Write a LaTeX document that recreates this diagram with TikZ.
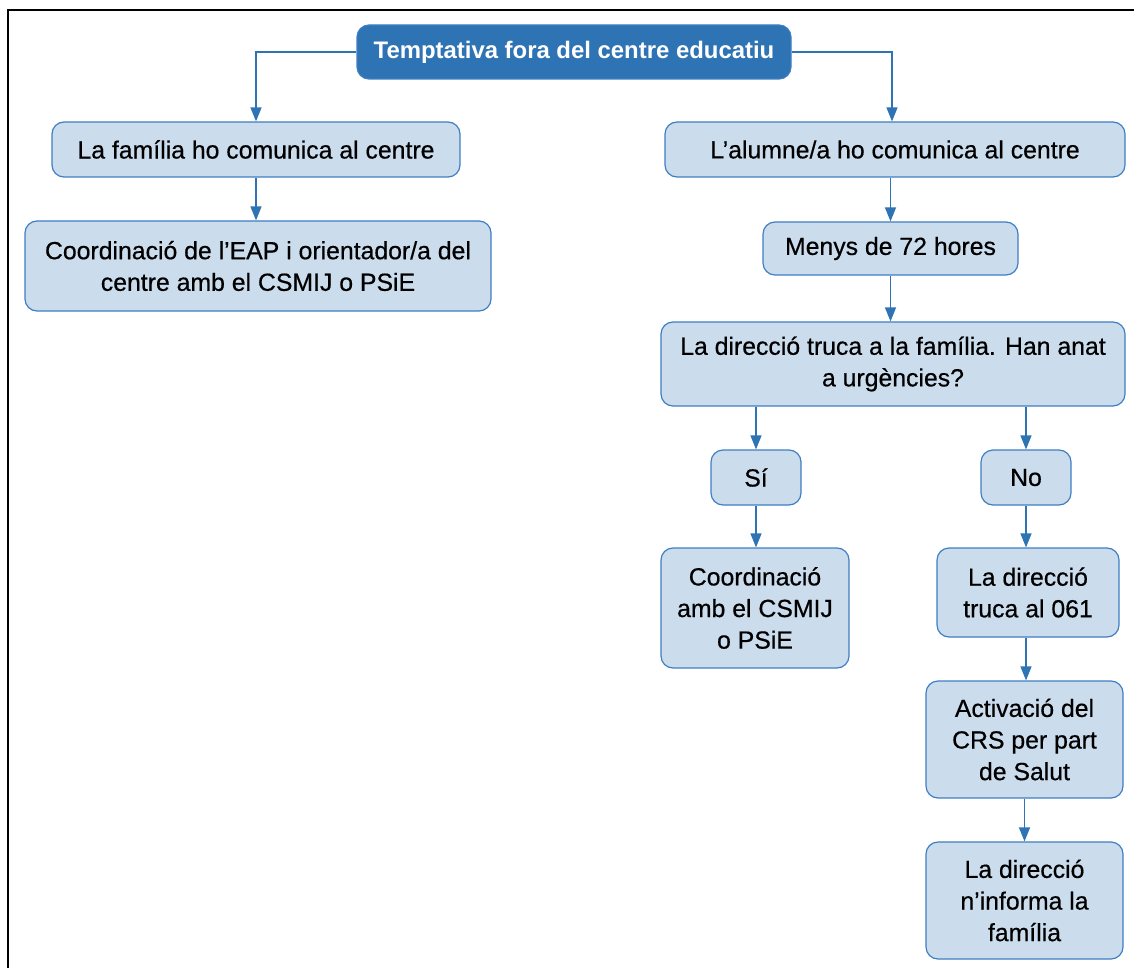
\documentclass[tikz,border=0pt]{standalone}
\usepackage{fontspec}
\setmainfont{Liberation Sans}
\newfontfamily\medfont{Liberation Sans}[FakeBold=0.5]
\usetikzlibrary{arrows.meta,calc}
\definecolor{darkb}{HTML}{2E73B4}
\definecolor{lightb}{HTML}{CBDCEC}
\definecolor{edgeb}{HTML}{3F7EC2}
\tikzset{
  box/.style={draw=edgeb, line width=1.2pt, fill=lightb, rounded corners=12pt, align=center,
    font=\medfont\fontsize{24.8}{31.6}\selectfont, inner sep=0pt, text=black},
  topbox/.style={draw=edgeb, line width=1.2pt, fill=darkb, rounded corners=12pt, align=center,
    font=\fontsize{23.9}{31}\selectfont\bfseries, inner sep=0pt, text=white},
  conn/.style={draw=darkb, line width=1.3pt, -{Triangle[length=14pt,width=11pt]}}
}
\begin{document}
\begin{tikzpicture}[x=1pt,y=-1pt]
\useasboundingbox (0,0) rectangle (1134,968);
\draw[line width=1.3pt, black] (8,968) -- (8,10) -- (1134,10);

\node[topbox, minimum width=434pt, minimum height=54pt] (top) at (574,52) {Temptativa fora del centre educatiu};
\node[box, minimum width=408pt, minimum height=55pt] (fam) at (256,149.5) {La família ho comunica al centre};
\node[box, minimum width=466pt, minimum height=90pt] (coord1) at (258,266) {Coordinació de l’EAP i orientador/a del\\centre amb el CSMIJ o PSiE};
\node[box, minimum width=460pt, minimum height=55pt] (alum) at (895,149.5) {L’alumne/a ho comunica al centre};
\node[box, minimum width=255pt, minimum height=53pt] (menys) at (890.5,248.5) {Menys de 72 hores};
\node[box, minimum width=464pt, minimum height=84pt] (dir) at (893,364) {La direcció truca a la família. Han anat\\a urgències?};
\node[box, minimum width=90pt, minimum height=55pt] (si) at (756,477.5) {Sí};
\node[box, minimum width=90pt, minimum height=55pt] (no) at (1026,477.5) {No};
\node[box, minimum width=188pt, minimum height=120pt] (coord2) at (755,608) {Coordinació\\amb el CSMIJ\\o PSiE};
\node[box, minimum width=182pt, minimum height=89pt] (truca) at (1028,592.5) {La direcció\\truca al 061};
\node[box, minimum width=197pt, minimum height=117pt] (act) at (1024.5,739.5) {Activació del\\CRS per part\\de Salut};
\node[box, minimum width=197pt, minimum height=117pt] (inf) at (1024.5,900.5) {La direcció\\n’informa la\\família};

\draw[conn] (top.west) -| (fam.north);
\draw[conn] (top.east) -| ([xshift=-3pt]alum.north);
\draw[conn] (fam.south) -- (fam.south |- coord1.north);
\draw[conn] (menys.north |- alum.south) -- (menys.north);
\draw[conn] (menys.south) -- (menys.south |- dir.north);
\draw[conn] (si.north |- dir.south) -- (si.north);
\draw[conn] (no.north |- dir.south) -- (no.north);
\draw[conn] (si.south) -- (si.south |- coord2.north);
\draw[conn] (no.south) -- (no.south |- truca.north);
\draw[conn] (no.south |- truca.south) -- (no.south |- act.north);
\draw[conn] (act.south) -- (inf.north);
\end{tikzpicture}
\end{document}
